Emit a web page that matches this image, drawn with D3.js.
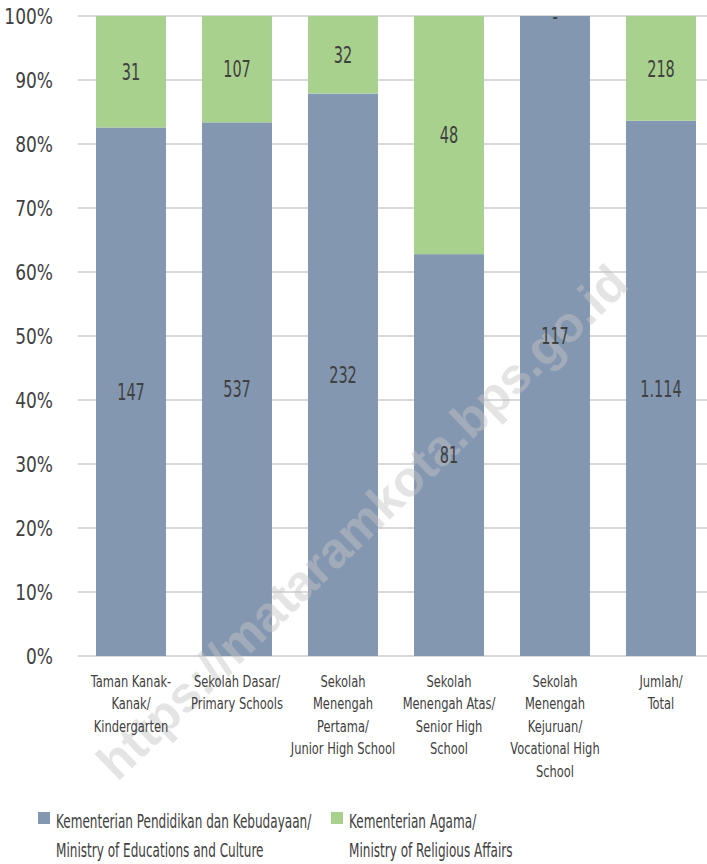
<!DOCTYPE html>
<html>
<head>
<meta charset="utf-8">
<script src="https://cdn.jsdelivr.net/npm/d3@7"></script>
<style>
body { margin: 0; background: #fff; }
text { font-family: "DejaVu Sans Condensed", "Liberation Sans Narrow", sans-serif; fill: #404040; }
</style>
</head>
<body>
<div class="container"></div>
<script>
// data
var categories = [
	["Taman Kanak-", "Kanak/", "Kindergarten"],
	["Sekolah Dasar/", "Primary Schools"],
	["Sekolah", "Menengah", "Pertama/", "Junior High School"],
	["Sekolah", "Menengah Atas/", "Senior High", "School"],
	["Sekolah", "Menengah", "Kejuruan/", "Vocational High", "School"],
	["Jumlah/", "Total"]
];
var kemendikbud = [147, 537, 232, 81, 117, 1114];
var kemenag = [31, 107, 32, 48, 0, 218];
var blueLabels = ["147", "537", "232", "81", "117", "1.114"];
var greenLabels = ["31", "107", "32", "48", "-", "218"];
var yTicks = [0, 0.1, 0.2, 0.3, 0.4, 0.5, 0.6, 0.7, 0.8, 0.9, 1];

var W = 707, H = 864;
var blue = "#8497b0", green = "#a9d18e";

var svg = d3.select('.container').append('svg')
	.attr('width', W).attr('height', H);

var x = d3.scaleBand()
	.domain(d3.range(categories.length))
	.range([78, 714])
	.paddingInner(0.34)
	.paddingOuter(0.17);

var y = d3.scaleLinear().domain([0, 1]).range([656, 16]);

var mid = function(i){ return x(i) + x.bandwidth() / 2; };

// grid
svg.append('g').selectAll('line')
	.data(yTicks)
	.enter().append('line')
	.attr('x1', 78).attr('x2', W)
	.attr('y1', function(d){ return y(d); })
	.attr('y2', function(d){ return y(d); })
	.style('stroke', '#d9d9d9')
	.style('stroke-width', 2);

var yAxis = svg.append('g')
	.attr('transform', 'translate(53,0)')
	.call(d3.axisLeft(y).tickValues(yTicks).tickFormat(d3.format('.0%')).tickSize(0));
yAxis.select('.domain').remove();
yAxis.selectAll('text')
	.attr('x', 0)
	.attr('dy', '0.36em')
	.attr('transform', 'scale(0.86,1)')
	.style('font-size', '22px')
	.style('fill', '#404040')
	.style('font-family', null);

var stacks = kemendikbud.map(function(b, i){
	var t = b + kemenag[i];
	return { i: i, b: b / t, g: kemenag[i] / t };
});

var bars = svg.append('g');
bars.selectAll('.blue').data(stacks).enter().append('rect')
	.attr('x', function(d){ return x(d.i); })
	.attr('width', x.bandwidth())
	.attr('y', function(d){ return y(d.b); })
	.attr('height', function(d){ return y(0) - y(d.b); })
	.style('fill', blue);
bars.selectAll('.green').data(stacks).enter().append('rect')
	.attr('x', function(d){ return x(d.i); })
	.attr('width', x.bandwidth())
	.attr('y', y(1))
	.attr('height', function(d){ return y(d.b) - y(1); })
	.style('fill', green);

// watermark
svg.append('text')
	.attr('transform', 'translate(362,522) rotate(-44)')
	.attr('text-anchor', 'middle')
	.attr('dy', '0.35em')
	.style('font-family', '"Liberation Sans", Arial, sans-serif')
	.style('font-weight', 'bold')
	.style('font-size', '50px')
	.style('fill', '#c4c4c4')
	.style('opacity', 0.45)
	.text('https://mataramkota.bps.go.id');

// value labels
var lab = svg.append('g').style('font-size', '23px').attr('text-anchor', 'middle');
lab.selectAll('.bl').data(stacks).enter().append('text')
	.attr('transform', function(d){ return 'translate(' + mid(d.i) + ',' + y(d.b / 2) + ') scale(0.7,1)'; })
	.attr('dy', '0.36em')
	.text(function(d){ return blueLabels[d.i]; });
lab.selectAll('.gl').data(stacks).enter().append('text')
	.attr('transform', function(d){ return 'translate(' + mid(d.i) + ',' + y(d.b + d.g / 2) + ') scale(0.7,1)'; })
	.attr('dy', '0.36em')
	.text(function(d){ return greenLabels[d.i]; });

// category labels
var cat = svg.append('g').style('font-size', '15px').attr('text-anchor', 'middle');
categories.forEach(function(lines, i){
	var t = cat.append('text')
		.attr('transform', 'translate(' + mid(i) + ',687) scale(0.85,1)');
	lines.forEach(function(s, j){
		t.append('tspan')
			.attr('x', 0)
			.attr('dy', j == 0 ? 0 : 22.5)
			.text(s);
	});
});

// legend
var legend = [
	{ c: blue, lines: ["Kementerian Pendidikan dan Kebudayaan/", "Ministry of Educations and Culture"], x: 38 },
	{ c: green, lines: ["Kementerian Agama/", "Ministry of Religious Affairs"], x: 331 }
];
var lg = svg.append('g').style('font-size', '20px');
legend.forEach(function(l){
	lg.append('rect').attr('x', l.x).attr('y', 812).attr('width', 12).attr('height', 12).style('fill', l.c);
	var t = lg.append('text').attr('transform', 'translate(' + (l.x + 18) + ',828) scale(0.67,1)');
	l.lines.forEach(function(s, j){
		t.append('tspan').attr('x', 0).attr('dy', j == 0 ? 0 : 29).text(s);
	});
});
</script>
</body>
</html>
